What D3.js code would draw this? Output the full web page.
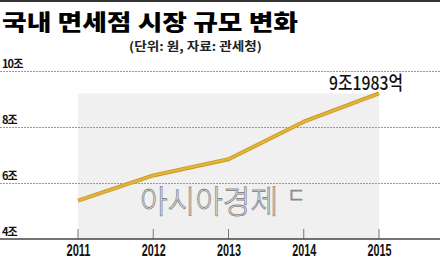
<!DOCTYPE html>
<html>
<head>
<meta charset="utf-8">
<script src="https://d3js.org/d3.v7.min.js"></script>
<style>
  body { margin: 0; background: #fff; }
  svg { display: block; }
</style>
</head>
<body>
<svg id="chart" width="440" height="259"></svg>
<script>
// data
var years = ["2011", "2012", "2013", "2014", "2015"];
var values = [5.37, 6.27, 6.85, 8.19, 9.1983];
var yTicks = [4, 6, 8, 10];
var yTickLabels = ["4조", "6조", "8조", "10조"];
var lastLabel = "9조1983억";
var titleText = "국내 면세점 시장 규모 변화";
var subtitleText = "(단위: 원, 자료: 관세청)";

var svg = d3.select("#chart"),
  width = +svg.attr("width"),
  height = +svg.attr("height");

var kfont = "'Noto Sans CJK KR', 'Noto Sans', sans-serif";

var x = d3.scalePoint()
  .domain(years)
  .range([78, 379]);

var y = d3.scaleLinear()
  .domain([4, 10])
  .range([239, 71]);

// top bar
svg.append("rect")
  .attr("x", 0).attr("y", 0)
  .attr("width", width).attr("height", 2)
  .attr("fill", "#333");

// title
svg.append("text")
  .attr("x", 2).attr("y", 30)
  .attr("font-family", kfont)
  .attr("font-weight", 900)
  .attr("font-size", 22)
  .attr("textLength", 296)
  .attr("lengthAdjust", "spacingAndGlyphs")
  .attr("fill", "#000")
  .text(titleText);

svg.append("text")
  .attr("x", 129).attr("y", 51)
  .attr("font-family", kfont)
  .attr("font-weight", 700)
  .attr("font-size", 12)
  .attr("textLength", 133)
  .attr("lengthAdjust", "spacingAndGlyphs")
  .attr("fill", "#222")
  .text(subtitleText);

// gray panel behind the line
svg.append("rect")
  .attr("x", x(years[0]))
  .attr("y", y(d3.max(values)))
  .attr("width", x(years[years.length - 1]) - x(years[0]))
  .attr("height", y(4) - y(d3.max(values)))
  .attr("fill", "#f0f0f0");

// grid lines (dotted), except the baseline
svg.append("g")
  .selectAll("line")
  .data(yTicks.filter(function (d) { return d !== 4; }))
  .enter().append("line")
  .attr("x1", 0).attr("x2", width)
  .attr("y1", function (d) { return y(d) + 0.5; })
  .attr("y2", function (d) { return y(d) + 0.5; })
  .attr("stroke", "#999")
  .attr("stroke-width", 1)
  .attr("stroke-dasharray", "2,1");

// y labels
svg.append("g")
  .selectAll("text")
  .data(yTicks)
  .enter().append("text")
  .attr("x", 2)
  .attr("y", function (d) { return y(d) - 3; })
  .attr("font-family", kfont)
  .attr("font-weight", 700)
  .attr("font-size", 11)
  .attr("letter-spacing", -0.9)
  .attr("fill", "#111")
  .text(function (d, i) { return yTickLabels[i]; });

// watermark
svg.append("text")
  .attr("x", 140).attr("y", 213)
  .attr("font-family", kfont)
  .attr("font-weight", 300)
  .attr("font-size", 32)
  .attr("textLength", 138)
  .attr("lengthAdjust", "spacingAndGlyphs")
  .attr("fill", "#fbfbfb")
  .attr("stroke", "#8a8a8a")
  .attr("stroke-width", 0.9)
  .text("아시아경제");

svg.append("text")
  .attr("x", 287).attr("y", 203)
  .attr("font-family", kfont)
  .attr("font-weight", 300)
  .attr("font-size", 20)
  .attr("fill", "#fbfbfb")
  .attr("stroke", "#8a8a8a")
  .attr("stroke-width", 0.9)
  .text("ㄷ");

// x axis
var xAxis = d3.axisBottom(x)
  .tickSize(0)
  .tickPadding(0);

var gx = svg.append("g")
  .attr("transform", "translate(0," + y(4) + ")")
  .call(xAxis);
gx.select(".domain").remove();
gx.attr("font-size", 16);
gx.selectAll("text")
  .attr("dy", null)
  .attr("y", 16.5)
  .attr("font-family", "'Liberation Sans', Arial, sans-serif")
  .attr("font-weight", 700)
  .style("font-size", "16px")
  .attr("textLength", 24)
  .attr("lengthAdjust", "spacingAndGlyphs")
  .attr("fill", "#111");

// tick marks going up
svg.append("g")
  .selectAll("line")
  .data(years)
  .enter().append("line")
  .attr("x1", function (d) { return x(d); })
  .attr("x2", function (d) { return x(d); })
  .attr("y1", y(4) - 10)
  .attr("y2", y(4))
  .attr("stroke", "#777")
  .attr("stroke-width", 1);

// baseline
svg.append("line")
  .attr("x1", 0).attr("x2", width)
  .attr("y1", y(4)).attr("y2", y(4))
  .attr("stroke", "#444")
  .attr("stroke-width", 1.5);

// the line
var line = d3.line()
  .x(function (d, i) { return x(years[i]); })
  .y(function (d) { return y(d); });

svg.append("path")
  .datum(values)
  .attr("d", line)
  .attr("fill", "none")
  .attr("stroke", "#c99a24")
  .attr("stroke-width", 4)
  .attr("stroke-linejoin", "round");

svg.append("path")
  .datum(values)
  .attr("d", line)
  .attr("fill", "none")
  .attr("stroke", "#e3b33c")
  .attr("stroke-width", 2.2)
  .attr("stroke-linejoin", "round");

// end label
svg.append("text")
  .attr("x", 403)
  .attr("y", y(values[values.length - 1]) - 3)
  .attr("text-anchor", "end")
  .attr("font-family", kfont)
  .attr("font-weight", 500)
  .style("font-size", "19px")
  .attr("textLength", 74)
  .attr("lengthAdjust", "spacingAndGlyphs")
  .attr("fill", "#111")
  .text(lastLabel);
</script>
</body>
</html>
